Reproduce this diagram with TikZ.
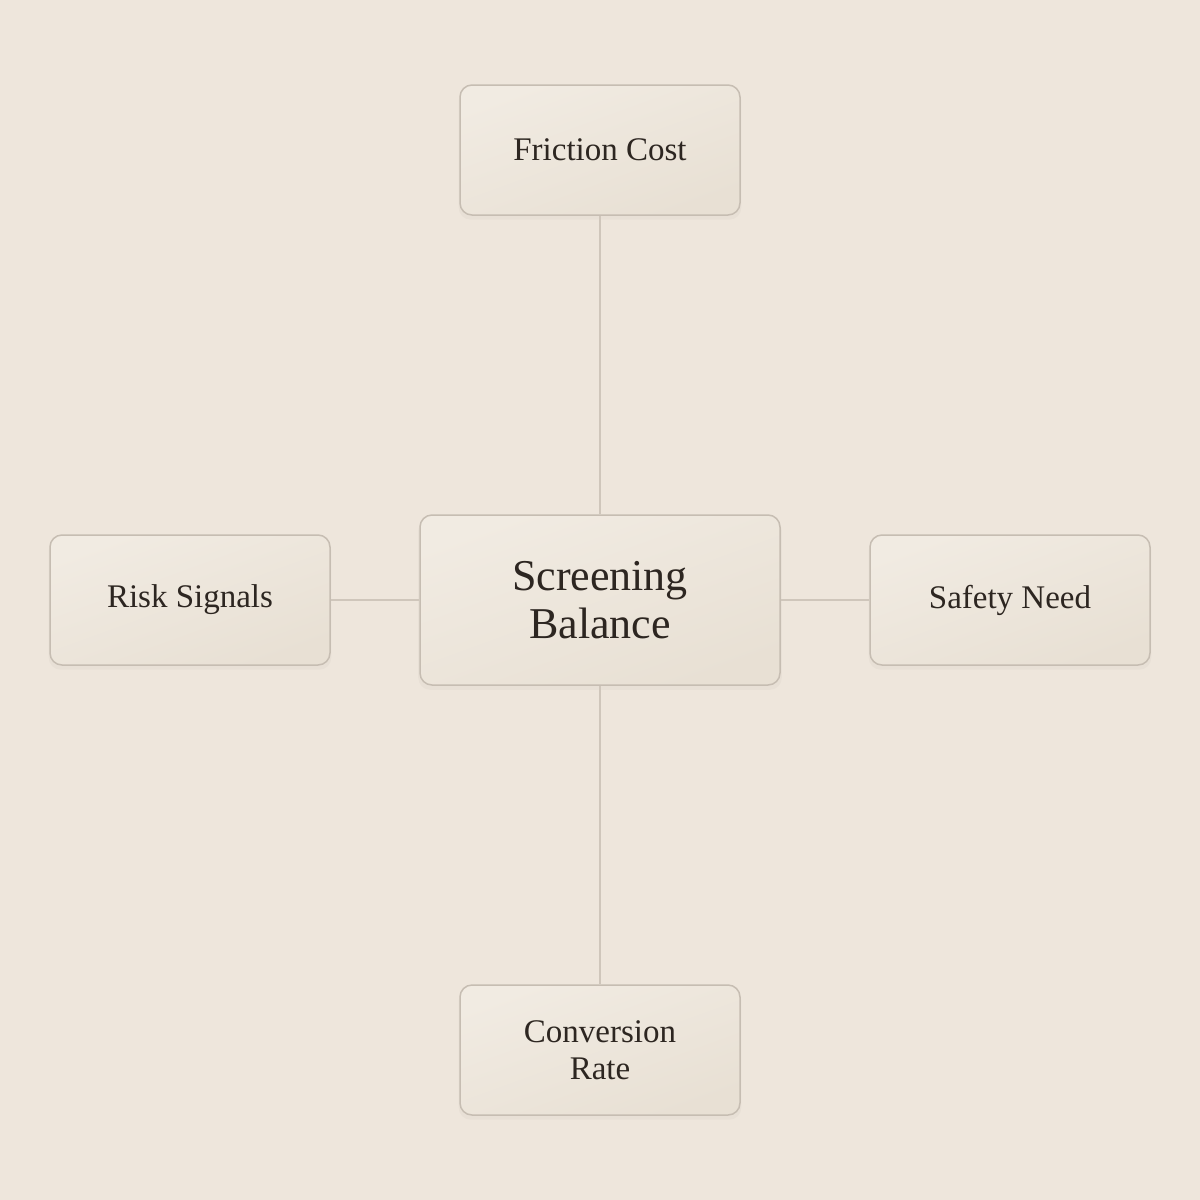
\documentclass[tikz,border=0pt]{standalone}
\usepackage{fontspec}
\setmainfont{Liberation Serif}
\usetikzlibrary{positioning,shadows}
\definecolor{paper}{HTML}{EEE6DC}
\definecolor{boxtop}{HTML}{F1EBE2}
\definecolor{boxbot}{HTML}{E8E0D4}
\definecolor{boxline}{HTML}{C6BDB2}
\definecolor{wire}{HTML}{CFC6BB}
\definecolor{ink}{HTML}{2D2621}
\tikzset{
    factor/.style={draw=boxline, line width=1.5pt, rounded corners=12pt,
        top color=boxtop, bottom color=boxbot, shading angle=20,
        minimum width=280pt, minimum height=130pt, align=center, text=ink,
        font=\fontsize{33}{37}\selectfont,
        general shadow={shadow yshift=-4pt, shadow scale=1.01, fill=black, opacity=0.025}},
    hub/.style={factor, minimum width=360pt, minimum height=170pt,
        font=\fontsize{44}{48}\selectfont},
    link/.style={draw=wire, line width=1.5pt},
}
\begin{document}
\begin{tikzpicture}[x=1pt, y=-1pt]
    \fill[paper] (0,0) rectangle (1200,1200);
    \useasboundingbox (0,0) rectangle (1200,1200);

    % centre and the four factors
    \node[hub] (balance) at (600,600) {Screening\\Balance};
    \node[factor] (friction) at (600,150) {Friction Cost};
    \node[factor] (conversion) at (600,1050) {Conversion\\Rate};
    \node[factor] (risk) at (190,600) {Risk Signals};
    \node[factor] (safety) at (1010,600) {Safety Need};

    \draw[link] (balance) -- (friction);
    \draw[link] (balance) -- (conversion);
    \draw[link] (balance) -- (risk);
    \draw[link] (balance) -- (safety);
\end{tikzpicture}
\end{document}
